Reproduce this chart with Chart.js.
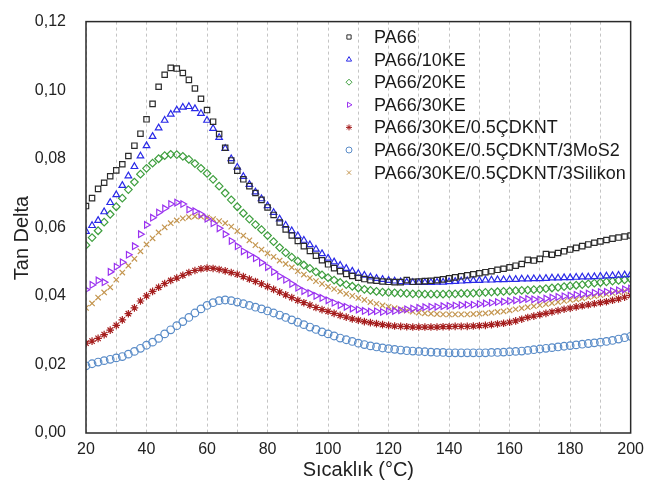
<!DOCTYPE html>
<html>
<head>
<meta charset="utf-8">
<script src="https://cdn.jsdelivr.net/npm/chart.js@4.4.0/dist/chart.umd.min.js"></script>
<style>
  html, body { margin: 0; padding: 0; background: #fff; }
</style>
</head>
<body>
<canvas id="grafico" width="651" height="486"></canvas>
<script>
var sicaklik = [20, 22, 24, 26, 28, 30, 32, 34, 36, 38,
  40, 42, 44, 46, 48, 50, 52, 54, 56, 58,
  60, 62, 64, 66, 68, 70, 72, 74, 76, 78,
  80, 82, 84, 86, 88, 90, 92, 94, 96, 98,
  100, 102, 104, 106, 108, 110, 112, 114, 116, 118,
  120, 122, 124, 126, 128, 130, 132, 134, 136, 138,
  140, 142, 144, 146, 148, 150, 152, 154, 156, 158,
  160, 162, 164, 166, 168, 170, 172, 174, 176, 178,
  180, 182, 184, 186, 188, 190, 192, 194, 196, 198, 200];

var etiketler = ["PA66", "PA66/10KE", "PA66/20KE", "PA66/30KE",
  "PA66/30KE/0.5ÇDKNT", "PA66/30KE/0.5ÇDKNT/3MoS2", "PA66/30KE/0.5ÇDKNT/3Silikon"];

var pa66 = [0.0662, 0.0685, 0.0712, 0.0730, 0.0749, 0.0766, 0.0784, 0.0808, 0.0838, 0.0873,
  0.0915, 0.0960, 0.1010, 0.1045, 0.1065, 0.1063, 0.1050, 0.1030, 0.1005, 0.0975,
  0.0942, 0.0908, 0.0872, 0.0832, 0.0795, 0.0765, 0.0740, 0.0720, 0.0700, 0.0680,
  0.0658, 0.0636, 0.0614, 0.0594, 0.0576, 0.0560, 0.0545, 0.0531, 0.0517, 0.0504,
  0.0492, 0.0481, 0.0472, 0.0464, 0.0458, 0.0453, 0.0449, 0.0446, 0.0444, 0.0442,
  0.0441, 0.0440, 0.0440, 0.0446, 0.0441, 0.0442, 0.0443, 0.0444, 0.0446, 0.0448,
  0.0451, 0.0454, 0.0457, 0.0460, 0.0463, 0.0466, 0.0469, 0.0472, 0.0476, 0.0479,
  0.0483, 0.0488, 0.0493, 0.0505, 0.0503, 0.0508, 0.0522, 0.0520, 0.0525, 0.0530,
  0.0535, 0.0540, 0.0545, 0.0550, 0.0555, 0.0559, 0.0563, 0.0567, 0.0570, 0.0573, 0.0576];

var pa66_10ke = [0.0588, 0.0605, 0.0620, 0.0645, 0.0672, 0.0695, 0.0722, 0.0750, 0.0777, 0.0808,
  0.0838, 0.0865, 0.0890, 0.0912, 0.0930, 0.0942, 0.0950, 0.0952, 0.0946, 0.0932,
  0.0912, 0.0888, 0.0862, 0.0830, 0.0800, 0.0775, 0.0748, 0.0725, 0.0703, 0.0683,
  0.0663, 0.0643, 0.0624, 0.0606, 0.0590, 0.0575, 0.0562, 0.0549, 0.0536, 0.0523,
  0.0510, 0.0499, 0.0489, 0.0480, 0.0472, 0.0465, 0.0460, 0.0455, 0.0451, 0.0448,
  0.0445, 0.0443, 0.0441, 0.0440, 0.0439, 0.0439, 0.0439, 0.0439, 0.0440, 0.0440,
  0.0441, 0.0442, 0.0443, 0.0444, 0.0445, 0.0445, 0.0446, 0.0446, 0.0447, 0.0447,
  0.0448, 0.0448, 0.0449, 0.0449, 0.0450, 0.0450, 0.0451, 0.0452, 0.0452, 0.0453,
  0.0453, 0.0454, 0.0455, 0.0455, 0.0456, 0.0457, 0.0458, 0.0459, 0.0460, 0.0461, 0.0462];

var pa66_20ke = [0.0548, 0.0570, 0.0590, 0.0615, 0.0638, 0.0660, 0.0685, 0.0710, 0.0732, 0.0755,
  0.0772, 0.0787, 0.0800, 0.0809, 0.0813, 0.0812, 0.0807, 0.0798, 0.0786, 0.0772,
  0.0757, 0.0740, 0.0720, 0.0700, 0.0680, 0.0660, 0.0641, 0.0624, 0.0608, 0.0593,
  0.0576, 0.0558, 0.0541, 0.0526, 0.0513, 0.0501, 0.0490, 0.0480, 0.0470, 0.0461,
  0.0453, 0.0446, 0.0439, 0.0433, 0.0428, 0.0423, 0.0419, 0.0416, 0.0413, 0.0411,
  0.0410, 0.0409, 0.0408, 0.0407, 0.0406, 0.0406, 0.0405, 0.0405, 0.0405, 0.0405,
  0.0406, 0.0406, 0.0407, 0.0407, 0.0408, 0.0409, 0.0410, 0.0411, 0.0412, 0.0413,
  0.0414, 0.0415, 0.0416, 0.0417, 0.0418, 0.0419, 0.0421, 0.0423, 0.0425, 0.0427,
  0.0429, 0.0431, 0.0433, 0.0435, 0.0437, 0.0439, 0.0441, 0.0443, 0.0445, 0.0447, 0.0449];

var pa66_30ke = [0.0418, 0.0432, 0.0445, 0.0440, 0.0470, 0.0485, 0.0498, 0.0520, 0.0545, 0.0580,
  0.0607, 0.0628, 0.0643, 0.0655, 0.0668, 0.0672, 0.0668, 0.0652, 0.0647, 0.0638,
  0.0625, 0.0612, 0.0597, 0.0580, 0.0560, 0.0545, 0.0530, 0.0520, 0.0510, 0.0497,
  0.0484, 0.0470, 0.0457, 0.0447, 0.0435, 0.0424, 0.0414, 0.0408, 0.0400, 0.0394,
  0.0387, 0.0380, 0.0373, 0.0368, 0.0363, 0.0360, 0.0356, 0.0354, 0.0355, 0.0353,
  0.0355, 0.0356, 0.0358, 0.0361, 0.0363, 0.0365, 0.0367, 0.0368, 0.0368, 0.0370,
  0.0371, 0.0372, 0.0373, 0.0374, 0.0374, 0.0376, 0.0378, 0.0380, 0.0382, 0.0383,
  0.0385, 0.0387, 0.0389, 0.0391, 0.0390, 0.0389, 0.0392, 0.0395, 0.0397, 0.0399,
  0.0401, 0.0403, 0.0405, 0.0407, 0.0409, 0.0411, 0.0412, 0.0414, 0.0416, 0.0419, 0.0421];

var pa66_cdknt = [0.0262, 0.0268, 0.0276, 0.0287, 0.0300, 0.0314, 0.0330, 0.0348, 0.0365, 0.0385,
  0.0400, 0.0413, 0.0425, 0.0436, 0.0445, 0.0452, 0.0460, 0.0468, 0.0474, 0.0479,
  0.0481, 0.0480, 0.0477, 0.0473, 0.0468, 0.0463, 0.0456, 0.0449, 0.0442, 0.0435,
  0.0427, 0.0419, 0.0411, 0.0403, 0.0395, 0.0387, 0.0380, 0.0373, 0.0366, 0.0360,
  0.0355, 0.0349, 0.0343, 0.0338, 0.0333, 0.0329, 0.0325, 0.0322, 0.0319, 0.0316,
  0.0314, 0.0312, 0.0311, 0.0310, 0.0309, 0.0309, 0.0309, 0.0309, 0.0309, 0.0310,
  0.0310, 0.0311, 0.0311, 0.0311, 0.0312, 0.0313, 0.0314, 0.0316, 0.0318, 0.0320,
  0.0323, 0.0327, 0.0332, 0.0337, 0.0341, 0.0345, 0.0349, 0.0353, 0.0357, 0.0361,
  0.0364, 0.0368, 0.0371, 0.0374, 0.0377, 0.0380, 0.0383, 0.0387, 0.0391, 0.0396, 0.0401];

var pa66_mos2 = [0.0196, 0.0202, 0.0207, 0.0211, 0.0215, 0.0219, 0.0223, 0.0230, 0.0238, 0.0247,
  0.0256, 0.0265, 0.0276, 0.0289, 0.0301, 0.0313, 0.0325, 0.0337, 0.0350, 0.0362,
  0.0372, 0.0380, 0.0386, 0.0388, 0.0386, 0.0382, 0.0377, 0.0372, 0.0367, 0.0362,
  0.0356, 0.0350, 0.0344, 0.0337, 0.0330, 0.0323, 0.0316, 0.0309, 0.0302, 0.0295,
  0.0289, 0.0283, 0.0277, 0.0272, 0.0267, 0.0262, 0.0258, 0.0254, 0.0251, 0.0248,
  0.0246, 0.0244, 0.0242, 0.0240, 0.0239, 0.0238, 0.0237, 0.0236, 0.0235, 0.0235,
  0.0234, 0.0234, 0.0234, 0.0234, 0.0234, 0.0234, 0.0234, 0.0235, 0.0235, 0.0236,
  0.0237, 0.0238, 0.0239, 0.0241, 0.0243, 0.0245, 0.0247, 0.0249, 0.0251, 0.0253,
  0.0255, 0.0257, 0.0259, 0.0261, 0.0263, 0.0265, 0.0267, 0.0270, 0.0274, 0.0278, 0.0282];

var pa66_silikon = [0.0365, 0.0378, 0.0395, 0.0410, 0.0425, 0.0447, 0.0468, 0.0488, 0.0508, 0.0530,
  0.0550, 0.0568, 0.0585, 0.0600, 0.0612, 0.0620, 0.0626, 0.0630, 0.0632, 0.0631,
  0.0628, 0.0624, 0.0618, 0.0612, 0.0602, 0.0589, 0.0576, 0.0562, 0.0548, 0.0535,
  0.0524, 0.0514, 0.0503, 0.0493, 0.0483, 0.0472, 0.0462, 0.0452, 0.0443, 0.0435,
  0.0427, 0.0420, 0.0413, 0.0406, 0.0400, 0.0394, 0.0388, 0.0382, 0.0377, 0.0372,
  0.0368, 0.0364, 0.0360, 0.0357, 0.0354, 0.0351, 0.0349, 0.0348, 0.0347, 0.0346,
  0.0346, 0.0346, 0.0346, 0.0346, 0.0347, 0.0348, 0.0349, 0.0351, 0.0353, 0.0355,
  0.0358, 0.0361, 0.0364, 0.0367, 0.0370, 0.0373, 0.0376, 0.0379, 0.0382, 0.0385,
  0.0388, 0.0390, 0.0393, 0.0396, 0.0399, 0.0402, 0.0405, 0.0408, 0.0411, 0.0414, 0.0417];

var seriler = [pa66, pa66_10ke, pa66_20ke, pa66_30ke, pa66_cdknt, pa66_mos2, pa66_silikon];
var renkler = ["#2b2b2b", "#2a2ae8", "#3f9f3f", "#9b33f0", "#a51e1e", "#5a8cc8", "#c49650"];
var sekiller = ["rect", "triangle", "rectRot", "triangle", "star", "circle", "crossRot"];
var donme = [0, 0, 0, 90, 0, 0, 0];

var FONT = '"Liberation Sans", Arial, sans-serif';
Chart.defaults.font.family = FONT;
Chart.defaults.color = "#222";

// legend and y title drawn by hand, inside / beside the plot like the original
var legendaPlugin = {
  id: "legenda",
  afterDatasetsDraw: function (chart) {
    var ctx = chart.ctx;
    ctx.save();
    chart.data.datasets.forEach(function (ds, i) {
      var y = 37 + i * 22.6;
      ctx.strokeStyle = ds.borderColor;
      ctx.fillStyle = "rgba(0,0,0,0)";
      ctx.lineWidth = 1;
      Chart.helpers.drawPoint(ctx, {
        pointStyle: ds.pointStyle, rotation: ds.pointRotation, radius: 3, borderWidth: 1
      }, 349, y);
      ctx.fillStyle = "#1a1a1a";
      ctx.font = "18px " + FONT;
      ctx.textBaseline = "middle";
      ctx.textAlign = "left";
      ctx.fillText(ds.label, 374, y + 1);
    });
    // y axis title
    ctx.translate(22, 238);
    ctx.rotate(-Math.PI / 2);
    ctx.font = "20px " + FONT;
    ctx.fillStyle = "#222";
    ctx.textAlign = "center";
    ctx.textBaseline = "middle";
    ctx.fillText("Tan Delta", 0, 0);
    ctx.restore();
  }
};

var kutuPlugin = {
  id: "kutu",
  afterDraw: function (chart) {
    var a = chart.chartArea, ctx = chart.ctx;
    ctx.save();
    ctx.strokeStyle = "#2a2a2a";
    ctx.lineWidth = 1.5;
    ctx.strokeRect(a.left, a.top, a.right - a.left, a.bottom - a.top);
    ctx.restore();
  }
};

var datasets = seriler.map(function (s, i) {
  return {
    label: etiketler[i],
    data: sicaklik.map(function (t, j) { return { x: t, y: s[j] }; }),
    showLine: false,
    borderColor: renkler[i],
    backgroundColor: "rgba(0,0,0,0)",
    pointStyle: sekiller[i],
    pointRotation: donme[i],
    pointRadius: 3.8,
    pointBorderWidth: 1.2
  };
});

new Chart(document.getElementById("grafico").getContext("2d"), {
  type: "scatter",
  data: { datasets: datasets },
  plugins: [legendaPlugin, kutuPlugin],
  options: {
    responsive: false,
    animation: false,
    devicePixelRatio: 1,
    layout: { padding: { top: 16, right: 14, left: 0, bottom: 0 } },
    plugins: { legend: { display: false }, tooltip: { enabled: false } },
    scales: {
      x: {
        type: "linear",
        min: 20, max: 200,
        afterFit: function (s) { s.height = 53; },
        ticks: {
          stepSize: 10, autoSkip: false, maxRotation: 0, padding: 7,
          font: { size: 16 }, color: "#222",
          callback: function (v) { return v % 20 === 0 ? v : ""; }
        },
        grid: { color: "#c4c4c4", lineWidth: 1, drawTicks: false },
        border: { display: false, dash: [3, 3] },
        title: {
          display: true, text: "Sıcaklık (°C)", color: "#222",
          font: { size: 20 }, padding: { top: 0, bottom: 4 }
        }
      },
      y: {
        min: 0, max: 0.12,
        afterFit: function (s) { s.width = 86; },
        ticks: {
          stepSize: 0.02, padding: 12, font: { size: 16 }, color: "#222",
          callback: function (v) { return v.toFixed(2).replace(".", ","); }
        },
        grid: { display: false },
        border: { display: false }
      }
    }
  }
});
</script>
</body>
</html>
